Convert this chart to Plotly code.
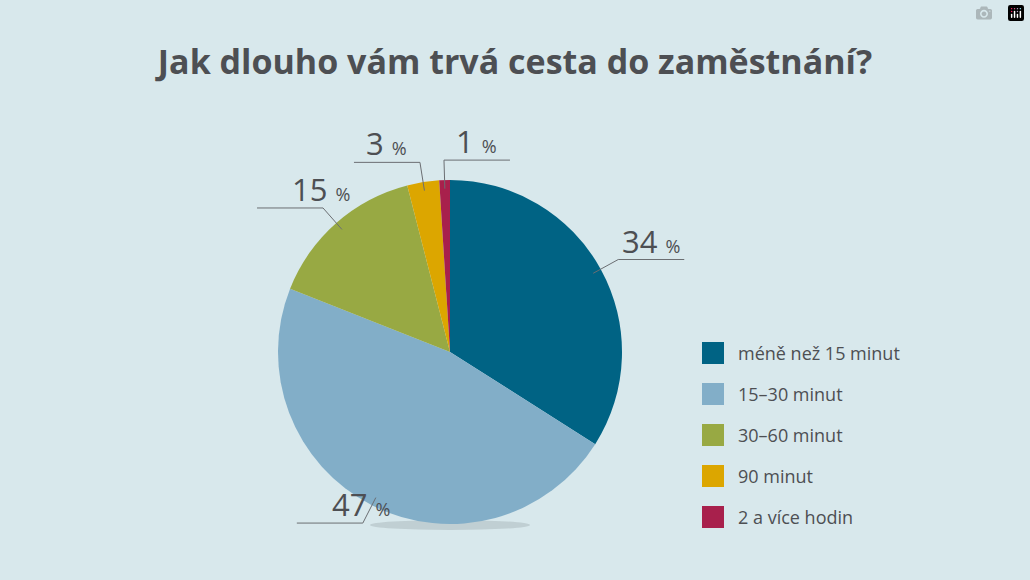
import math
import plotly.graph_objects as go

labels = ["méně než 15 minut", "15–30 minut", "30–60 minut", "90 minut", "2 a více hodin"]
values = [34, 47, 15, 3, 1]
colors = ["#006384", "#82aec8", "#98a943", "#dca600", "#a8204c"]

W, H = 1030, 580
cx, cy, R = 450, 352, 172
bg = "#d8e8ec"
txt = "#4d4f53"


def px(x, y):
    return x / W, 1 - y / H


fig = go.Figure()
x0, y1 = px(cx - R, cy - R)
x1, y0 = px(cx + R, cy + R)
fig.add_trace(go.Pie(
    labels=labels, values=values, sort=False, direction="clockwise", rotation=0,
    marker=dict(colors=colors, line=dict(width=0)), textinfo="none",
    hoverinfo="label+percent", domain=dict(x=[x0, x1], y=[y0, y1]), showlegend=False,
))

# soft shadow under the pie
sx0, sy0 = px(cx - 80, cy + R + 6)
sx1, sy1 = px(cx + 80, cy + R - 4)
fig.add_shape(type="circle", xref="paper", yref="paper", x0=sx0, x1=sx1, y0=sy0, y1=sy1,
              fillcolor="rgba(120,130,135,0.25)", line_width=0, layer="below")

# leader lines and value labels
cum = 0
for v in values:
    a = math.radians((cum + v / 2) * 3.6)
    cum += v
    s, c = math.sin(a), math.cos(a)
    p1 = (cx + R * 0.95 * s, cy - R * 0.95 * c)
    p2 = (cx + (R + 20) * s, cy - (R + 20) * c)
    d = 1 if s >= 0 else -1
    if v == 1:
        d = 1
    p3 = (p2[0] + d * 66, p2[1])
    pts = [px(*p) for p in (p1, p2, p3)]
    path = "M {} {} L {} {} L {} {}".format(*[k for p in pts for k in p])
    fig.add_shape(type="path", xref="paper", yref="paper", path=path,
                  line=dict(color="#6b6e72", width=1))
    tx, ty = px((p2[0] + p3[0]) / 2, p2[1])
    fig.add_annotation(xref="paper", yref="paper", x=tx, y=ty, yanchor="bottom", yshift=-4,
                       showarrow=False,
                       text=f"{v} <span style='font-size:18px'>%</span>",
                       font=dict(size=31, color=txt, family="Open Sans"))

# legend
for i, (lab, col) in enumerate(zip(labels, colors)):
    ly = 353 + i * 41
    a0, b0 = px(702, ly - 11)
    a1, b1 = px(724, ly + 11)
    fig.add_shape(type="rect", xref="paper", yref="paper", x0=a0, x1=a1, y0=b1, y1=b0,
                  fillcolor=col, line_width=0)
    tx, ty = px(736, ly)
    fig.add_annotation(xref="paper", yref="paper", x=tx, y=ty, xanchor="left", yanchor="middle",
                       showarrow=False,
                       text=lab, font=dict(size=18, color=txt, family="Open Sans"))

fig.update_layout(
    width=W, height=H, margin=dict(l=0, r=0, t=0, b=0),
    paper_bgcolor=bg, plot_bgcolor=bg,
    title=dict(text="<b>Jak dlouho vám trvá cesta do zaměstnání?</b>", x=0.5, xanchor="center",
               y=1 - 62 / H, yanchor="middle",
               font=dict(size=34, color=txt, family="Open Sans")),
)
fig.write_html("out.html", post_script="document.body.style.margin='0';")
